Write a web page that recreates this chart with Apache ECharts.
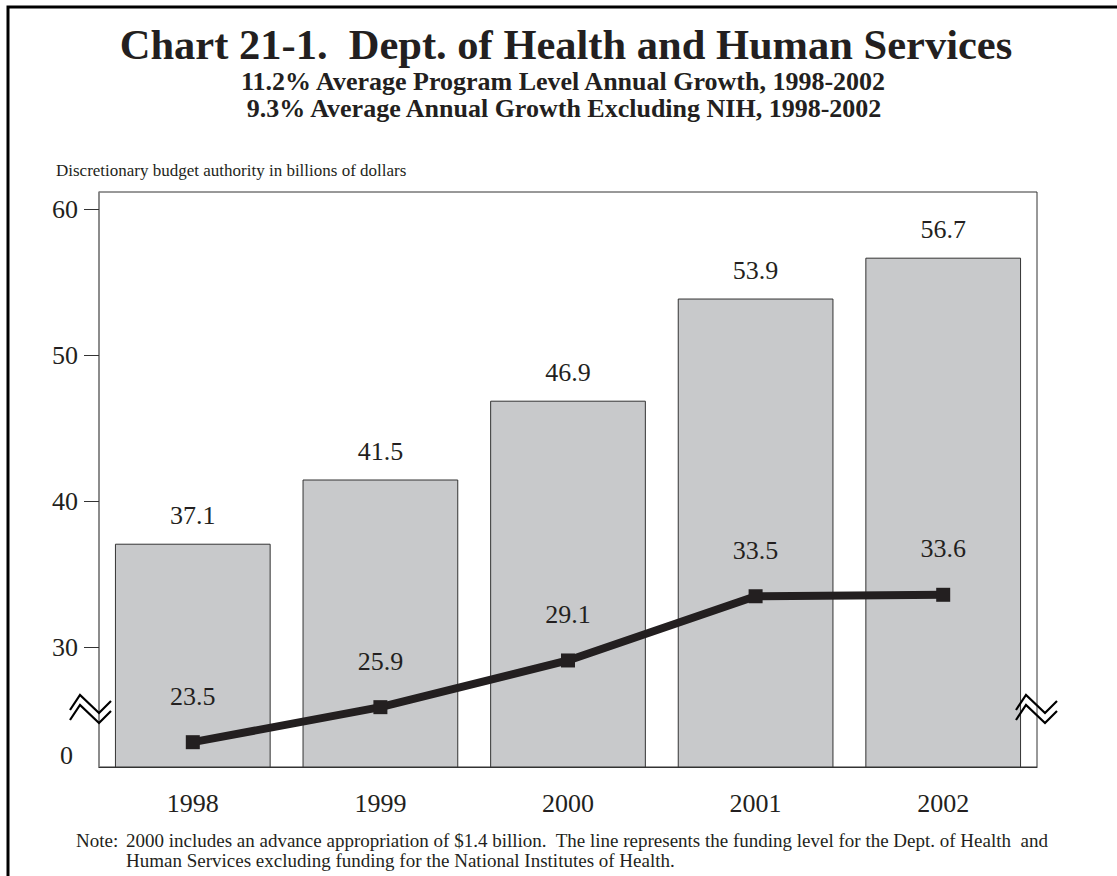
<!DOCTYPE html>
<html>
<head>
<meta charset="utf-8">
<script src="https://cdn.jsdelivr.net/npm/echarts@6/dist/echarts.min.js"></script>
<style>
  html, body { margin: 0; padding: 0; background: #fff; }
  #chart { width: 1117px; height: 876px; }
</style>
</head>
<body>
<div id="chart"></div>
<script>
// ---- data ----
const years = ['1998', '1999', '2000', '2001', '2002'];
const hhsTotal = [37.1, 41.5, 46.9, 53.9, 56.7];
const hhsExclNIH = [23.5, 25.9, 29.1, 33.5, 33.6];
const yTickValues = [30, 40, 50, 60];
const brokenZeroLabel = '0';
const brokenZeroAt = 22.6;   // where the "0" label sits below the axis break

const titleText = 'Chart 21-1.  Dept. of Health and Human Services';
const subtitle1 = '11.2% Average Program Level Annual Growth, 1998-2002';
const subtitle2 = '9.3% Average Annual Growth Excluding NIH, 1998-2002';
const yAxisTitle = 'Discretionary budget authority in billions of dollars';
const noteLabel = 'Note:';
const noteLine1 = '2000 includes an advance appropriation of $1.4 billion.  The line represents the funding level for the Dept. of Health  and';
const noteLine2 = 'Human Services excluding funding for the National Institutes of Health.';

// ---- chart ----
const FONT = 'Liberation Serif';
const INK = '#231f20';
const chart = echarts.init(document.getElementById('chart'), null, { renderer: 'svg' });

function zigzag(vx, vy) {
  const pts = [[-29, -3], [-19, -18], [0, 0], [12, -12]];
  const mk = (dy) => ({
    type: 'polyline',
    shape: { points: pts.map(p => [vx + p[0], vy + p[1] + dy]) },
    style: { stroke: '#000', lineWidth: 2.2, fill: null },
    z: 100
  });
  return [mk(0), mk(10)];
}

function txt(x, y, text, size, weight, align) {
  return {
    type: 'text', x: x, y: y,
    style: {
      text: text, fontFamily: FONT, fontSize: size, fontWeight: weight,
      fill: INK, align: align, verticalAlign: 'middle'
    }
  };
}

const option = {
  backgroundColor: '#fff',
  animation: false,
  textStyle: { fontFamily: FONT, color: INK },
  grid: {
    left: 99, right: 80, top: 192, bottom: 109,
    show: true, borderColor: '#333', borderWidth: 1, backgroundColor: 'transparent'
  },
  xAxis: {
    type: 'category',
    data: years,
    axisLine: { lineStyle: { color: '#333', width: 1.2 } },
    axisTick: { show: false },
    axisLabel: { fontFamily: FONT, fontSize: 26, color: INK, margin: 23 }
  },
  yAxis: {
    type: 'value',
    min: 21.8,
    max: 61.2,
    splitLine: { show: false },
    axisLine: { show: true, lineStyle: { color: '#888', width: 1.5 } },
    axisTick: { show: true, customValues: yTickValues, length: 15, lineStyle: { color: '#333', width: 1 } },
    axisLabel: {
      customValues: [brokenZeroAt].concat(yTickValues),
      fontFamily: FONT, fontSize: 26, color: INK, margin: 21,
      formatter: (v) => (Math.abs(v - brokenZeroAt) < 1e-6 ? '{z|' + brokenZeroLabel + '}' : String(v)),
      rich: { z: { fontFamily: FONT, fontSize: 26, color: INK, padding: [0, 5, 0, 0] } }
    }
  },
  series: [
    {
      type: 'bar',
      data: hhsTotal,
      barCategoryGap: '17%',
      clip: true,
      itemStyle: { color: '#c8c9cb', borderColor: '#333', borderWidth: 1 },
      label: {
        show: true, position: 'top', distance: 15,
        fontFamily: FONT, fontSize: 26, color: INK,
        formatter: (p) => p.value.toFixed(1)
      },
      z: 2
    },
    {
      type: 'line',
      data: hhsExclNIH,
      symbol: 'rect',
      symbolSize: 14,
      lineStyle: { color: INK, width: 8 },
      itemStyle: { color: INK },
      label: {
        show: true, position: 'top', distance: 26,
        fontFamily: FONT, fontSize: 26, color: INK,
        formatter: (p) => p.value.toFixed(1)
      },
      z: 5
    }
  ],
  graphic: [
    { type: 'rect', shape: { x: 8, y: 7, width: 1300, height: 1000 }, style: { fill: null, stroke: '#000', lineWidth: 3 } },
    txt(566, 44, titleText, 42.5, 'bold', 'center'),
    txt(563, 81, subtitle1, 26, 'bold', 'center'),
    txt(564, 108, subtitle2, 26, 'bold', 'center'),
    txt(56, 170, yAxisTitle, 17, 'normal', 'left'),
    txt(76, 840, noteLabel, 19, 'normal', 'left'),
    txt(126, 840, noteLine1, 19, 'normal', 'left'),
    txt(126, 860, noteLine2, 19, 'normal', 'left')
  ].concat(zigzag(99, 713), zigzag(1045, 713))
};

chart.setOption(option);
</script>
</body>
</html>
